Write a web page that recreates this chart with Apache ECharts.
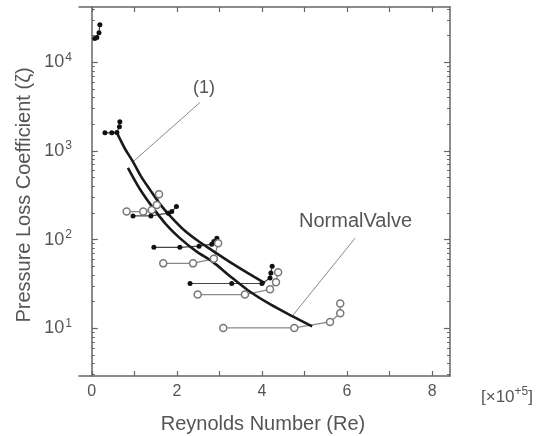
<!DOCTYPE html>
<html>
<head>
<meta charset="utf-8">
<script src="https://cdn.jsdelivr.net/npm/echarts@6/dist/echarts.min.js"></script>
<style>
  html, body { margin: 0; padding: 0; background: #fff; }
  #main { width: 542px; height: 436px; }
</style>
</head>
<body>
<div id="main"></div>
<script>
// tick labels
var xTickLabels = [0, 2, 4, 6, 8];
var xTicks = [0, 1, 2, 3, 4, 5, 6, 7, 8];
var yTickLabels = [10, 100, 1000, 10000];
var yMinorTicks = [3, 4, 5, 6, 7, 8, 9, 20, 30, 40, 50, 60, 70, 80, 90,
  200, 300, 400, 500, 600, 700, 800, 900, 2000, 3000, 4000, 5000, 6000, 7000, 8000, 9000, 20000, 30000, 40000];

// measured points [Re x1e5, zeta]  (filled = black dots, open = circles)
var filledTop = [[0.07, 18500], [0.12, 19000], [0.17, 21500], [0.19, 26500]];
var filled1600 = [[0.31, 1600], [0.47, 1600], [0.59, 1610], [0.65, 1880], [0.66, 2140]];
var open207 = [[0.82, 207], [1.21, 207], [1.41, 216], [1.53, 246], [1.58, 325]];
var filled185 = [[0.97, 185], [1.39, 185], [1.80, 199], [1.88, 207], [1.99, 236]];
var filled82 = [[1.46, 82], [2.07, 82], [2.52, 84.5], [2.82, 89], [2.87, 95], [2.94, 104]];
var open54 = [[1.68, 54], [2.38, 54], [2.87, 61], [2.97, 91]];
var filled32 = [[2.31, 32], [3.29, 32], [4.0, 32], [4.19, 37], [4.21, 42], [4.24, 50]];
var open24 = [[2.49, 24], [3.60, 24], [4.19, 27.5], [4.33, 33], [4.38, 43]];
var open10 = [[3.09, 10.1], [4.76, 10.1], [5.6, 11.8], [5.84, 14.8], [5.84, 19]];

// fitted curves
var curve1 = [[0.59, 1607], [0.78, 1059], [0.97, 755], [1.15, 524], [1.37, 364], [1.60, 253],
  [1.84, 185], [2.14, 132], [2.47, 98.9], [2.82, 76.2], [3.25, 55.8], [3.67, 41.9], [4.07, 32.3]];
var normalValve = [[0.85, 646], [1.13, 373], [1.44, 228], [1.74, 150], [2.07, 104], [2.45, 74.3],
  [2.85, 55.8], [3.25, 38.7], [3.67, 26.9], [4.19, 18.7], [4.71, 13.7], [5.18, 10.5]];

// leader lines for the annotations
var leader1 = [[2.54, 3510], [0.97, 755]];
var leaderNV = [[6.19, 104], [4.71, 13.7]];

var FONT = 'Liberation Sans, Arial, sans-serif';
var TXT = '#555';
var AX = '#666';

function filledSeries(d) {
  return {
    type: 'line', data: d, symbol: 'circle', symbolSize: 5,
    itemStyle: { color: '#111' },
    lineStyle: { color: '#444', width: 1.2 }
  };
}
function openSeries(d) {
  return {
    type: 'line', data: d, symbol: 'circle', symbolSize: 7,
    itemStyle: { color: '#fff', borderColor: '#777', borderWidth: 1.5 },
    lineStyle: { color: '#888', width: 1.3 }
  };
}
function thinLine(d) {
  return { type: 'line', data: d, showSymbol: false, lineStyle: { color: '#888', width: 1 } };
}
function thickLine(d) {
  return { type: 'line', data: d, showSymbol: false, smooth: 0.3, lineStyle: { color: '#1a1a1a', width: 2.6 } };
}

var myChart = echarts.init(document.getElementById('main'));

var yBase = { type: 'log', logBase: 10, min: 2.9, max: 42000, splitLine: { show: false } };
var xBase = { type: 'value', min: -0.3, max: 8.42, splitLine: { show: false } };

var option = {
  animation: false,
  backgroundColor: '#fff',
  grid: { left: 79, right: 92, top: 7, bottom: 60 },
  xAxis: [
    Object.assign({}, xBase, {
      position: 'bottom',
      axisLine: { show: true, lineStyle: { color: AX, width: 1.5 } },
      axisTick: { inside: true, length: 5, customValues: xTicks, lineStyle: { color: AX, width: 1.2 } },
      axisLabel: { customValues: xTickLabels, margin: 8, color: TXT, fontSize: 16, fontFamily: FONT }
    }),
    Object.assign({}, xBase, {
      position: 'top',
      axisLine: { show: true, lineStyle: { color: AX, width: 1.5 } },
      axisTick: { inside: true, length: 5, customValues: xTicks, lineStyle: { color: AX, width: 1.2 } },
      axisLabel: { show: false }
    })
  ],
  yAxis: [
    Object.assign({}, yBase, {
      position: 'left',
      axisLine: { show: true, lineStyle: { color: AX, width: 1.5 } },
      axisTick: { inside: true, length: 6, customValues: yTickLabels, lineStyle: { color: AX, width: 1.2 } },
      axisLabel: {
        customValues: yTickLabels, margin: 7,
        formatter: function (v) { return '{b|10}{s|' + Math.round(Math.log10(v)) + '}'; },
        rich: {
          b: { fontSize: 18, color: TXT, fontFamily: FONT },
          s: { fontSize: 12, color: TXT, fontFamily: FONT, padding: [0, 0, 10, 1] }
        }
      }
    }),
    Object.assign({}, yBase, {
      position: 'left',
      axisLine: { show: false },
      axisTick: { inside: true, length: 3, customValues: yMinorTicks, lineStyle: { color: AX, width: 1 } },
      axisLabel: { show: false }
    }),
    Object.assign({}, yBase, {
      position: 'right',
      axisLine: { show: true, lineStyle: { color: AX, width: 1.5 } },
      axisTick: { inside: true, length: 6, customValues: yTickLabels, lineStyle: { color: AX, width: 1.2 } },
      axisLabel: { show: false }
    }),
    Object.assign({}, yBase, {
      position: 'right',
      axisLine: { show: false },
      axisTick: { inside: true, length: 3, customValues: yMinorTicks, lineStyle: { color: AX, width: 1 } },
      axisLabel: { show: false }
    })
  ],
  series: [
    thinLine(leader1),
    thinLine(leaderNV),
    filledSeries(filledTop),
    filledSeries(filled1600),
    openSeries(open207),
    filledSeries(filled185),
    filledSeries(filled82),
    openSeries(open54),
    filledSeries(filled32),
    openSeries(open24),
    openSeries(open10),
    thickLine(curve1),
    thickLine(normalValve)
  ],
  graphic: [
    { type: 'text', x: 24, y: 195, rotation: Math.PI / 2,
      style: { text: 'Pressure Loss Coefficient (ζ)', fill: TXT, font: '20px ' + FONT, textAlign: 'center', textVerticalAlign: 'middle' } },
    { type: 'text', x: 263, y: 424,
      style: { text: 'Reynolds Number (Re)', fill: TXT, font: '20px ' + FONT, textAlign: 'center', textVerticalAlign: 'middle' } },
    { type: 'text', x: 481, y: 397,
      style: { text: '[×10{s|+5}]', fill: TXT, font: '17px ' + FONT, textVerticalAlign: 'middle',
        rich: { s: { fontSize: 12, fill: TXT, fontFamily: FONT, padding: [0, 0, 10, 0] } } } },
    { type: 'text', x: 204, y: 88,
      style: { text: '(1)', fill: TXT, font: '18px ' + FONT, textAlign: 'center', textVerticalAlign: 'middle' } },
    { type: 'text', x: 299, y: 221,
      style: { text: 'NormalValve', fill: TXT, font: '20px ' + FONT, textVerticalAlign: 'middle' } }
  ]
};

myChart.setOption(option);
window.addEventListener('resize', function () {
  myChart.resize();
});
</script>
</body>
</html>
